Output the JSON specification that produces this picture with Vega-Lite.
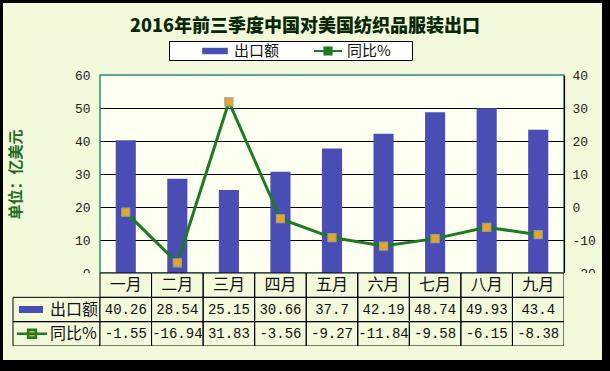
{
  "$schema": "https://vega.github.io/schema/vega-lite/v6.json",
  "background": "#000000",
  "padding": {"left": 3, "top": 3, "right": 8, "bottom": 11},
  "columns": 4,
  "align": "none",
  "bounds": "flush",
  "spacing": 0,
  "resolve": {"legend": {"color": "independent"}},
  "datasets": {
    "months": [
      {"month": "一月", "export": 40.26, "yoy": -1.55},
      {"month": "二月", "export": 28.54, "yoy": -16.94},
      {"month": "三月", "export": 25.15, "yoy": 31.83},
      {"month": "四月", "export": 30.66, "yoy": -3.56},
      {"month": "五月", "export": 37.7, "yoy": -9.27},
      {"month": "六月", "export": 42.19, "yoy": -11.84},
      {"month": "七月", "export": 48.74, "yoy": -9.58},
      {"month": "八月", "export": 49.93, "yoy": -6.15},
      {"month": "九月", "export": 43.4, "yoy": -8.38}
    ],
    "header": [
      {"row": "export", "label": "出口额"},
      {"row": "yoy", "label": "同比%"}
    ],
    "blank": [{}]
  },
  "concat": [
    {"width": 10, "height": 72, "data": {"name": "blank"}, "mark": {"type": "point", "opacity": 0}, "view": {"style": "cell", "fill": "#F2FADB", "stroke": null}},
    {"width": 87, "height": 72, "data": {"name": "blank"}, "mark": {"type": "point", "opacity": 0}, "view": {"style": "cell", "fill": "#F2FADB", "stroke": null}},
    {
      "width": 464, "height": 72,
      "data": {"name": "blank"},
      "view": {"style": "cell", "fill": "#F2FADB", "stroke": null},
      "mark": {"type": "text", "text": "2016年前三季度中国对美国纺织品服装出口", "font": "Noto Sans CJK SC", "fontSize": 18, "fontWeight": 900, "color": "#082808", "dx": -27, "dy": -12}
    },
    {"width": 38, "height": 72, "data": {"name": "blank"}, "mark": {"type": "point", "opacity": 0}, "view": {"style": "cell", "fill": "#F2FADB", "stroke": null}},

    {"width": 10, "height": 198, "data": {"name": "blank"}, "mark": {"type": "point", "opacity": 0}, "view": {"style": "cell", "fill": "#F2FADB", "stroke": null}},
    {"width": 87, "height": 198, "data": {"name": "blank"}, "mark": {"type": "point", "opacity": 0}, "view": {"style": "cell", "fill": "#F2FADB", "stroke": null}},
    {
      "width": 464, "height": 198,
      "data": {"name": "months"},
      "view": {"fill": "#FDFFF0", "stroke": "#2E8C7C", "strokeWidth": 1.5},
      "encoding": {
        "x": {"field": "month", "type": "nominal", "sort": null, "scale": {"paddingInner": 0.61, "paddingOuter": 0.305}, "axis": null}
      },
      "layer": [
        {
          "mark": {"type": "bar", "color": "#4A4EB4"},
          "encoding": {
            "y": {
              "field": "export", "type": "quantitative",
              "scale": {"domain": [0, 60]},
              "axis": {
                "values": [0, 10, 20, 30, 40, 50, 60],
                "title": "单位：亿美元",
                "titleFont": "Noto Sans CJK SC", "titleFontSize": 15, "titleFontWeight": "bold", "titleColor": "#1F6B1F",
                "titlePadding": 51,
                "labelFont": "Liberation Mono", "labelFontSize": 13, "labelColor": "#222222", "labelPadding": 10,
                "ticks": false, "domain": false,
                "grid": true,
                "gridColor": {"condition": {"test": "datum.value === 0 || datum.value === 60", "value": "transparent"}, "value": "#000000"},
                "gridWidth": 1, "gridOpacity": 1
              }
            },
            "color": {
              "datum": "出口额", "type": "nominal",
              "scale": {"domain": ["出口额", "同比%"], "range": ["#4A4EB4", "#1E7B22"]},
              "legend": {
                "orient": "none", "legendX": 69, "legendY": -34, "direction": "horizontal",
                "title": " ", "titleOrient": "right", "titlePadding": 20, "titleFontSize": 12,
                "fillColor": "#FFFFFF", "strokeColor": "#000000", "padding": 1,
                "symbolSize": 256, "symbolOffset": 36, "labelOffset": 10, "columnPadding": 3,
                "labelFont": "Noto Sans CJK SC", "labelFontSize": 15, "labelColor": "#111111",
                "encode": {
                  "symbols": {
                    "update": {
                      "shape": {"signal": "datum.value === '出口额' ? 'M-1.6,-0.4H1.6V0.4H-1.6Z' : 'M-1.75,0H1.75M-0.45,-0.45H0.45V0.45H-0.45Z'"},
                      "fill": {"signal": "datum.value === '出口额' ? '#4A4EB4' : '#E8A427'"},
                      "stroke": {"signal": "datum.value === '出口额' ? 'transparent' : '#1E7B22'"},
                      "strokeWidth": {"value": 2},
                      "opacity": {"value": 1}
                    }
                  }
                }
              }
            }
          }
        },
        {
          "mark": {"type": "line", "color": "#1E7B22", "strokeWidth": 3},
          "encoding": {"y": {"field": "yoy", "type": "quantitative", "scale": {"domain": [-20, 40]}, "axis": null}}
        },
        {
          "mark": {"type": "point", "shape": "square", "size": 64, "filled": true, "fill": "#E8A427", "stroke": "#9FA486", "strokeWidth": 1.2, "opacity": 1},
          "encoding": {"y": {"field": "yoy", "type": "quantitative", "scale": {"domain": [-20, 40]}, "axis": null}}
        }
      ],
      "resolve": {"scale": {"y": "independent"}}
    },
    {
      "width": 38, "height": 198,
      "data": {"name": "blank"},
      "view": {"style": "cell", "fill": "#F2FADB", "stroke": null},
      "mark": {"type": "point", "opacity": 0},
      "encoding": {
        "y": {
          "datum": 0, "type": "quantitative",
          "scale": {"domain": [-20, 40]},
          "axis": {
            "orient": "right", "offset": -38,
            "values": [-20, -10, 0, 10, 20, 30, 40],
            "labelExpr": "datum.value + ''",
            "domain": true, "domainColor": "#000000", "domainWidth": 1.2,
            "ticks": false, "grid": false,
            "labelPadding": 8, "labelFont": "Liberation Mono", "labelFontSize": 13, "labelColor": "#222222",
            "title": null
          }
        }
      }
    },

    {"width": 10, "height": 73, "data": {"name": "blank"}, "mark": {"type": "point", "opacity": 0}, "view": {"style": "cell", "fill": "#F2FADB", "stroke": null}},
    {
      "width": 87, "height": 73,
      "data": {"name": "header"},
      "view": {"style": "cell", "fill": "#F2FADB", "stroke": null},
      "encoding": {
        "x": {"datum": "h", "type": "nominal", "scale": {"type": "band", "domain": ["h"], "paddingInner": 0, "paddingOuter": 0}, "axis": null},
        "y": {"field": "row", "type": "nominal", "scale": {"domain": ["month", "export", "yoy"], "paddingInner": 0, "paddingOuter": 0}, "axis": null}
      },
      "layer": [
        {"mark": {"type": "rect", "fillOpacity": 0, "stroke": "#000000", "strokeWidth": 1}},
        {
          "mark": {"type": "text", "font": "Noto Sans CJK SC", "fontSize": 16, "color": "#111111", "align": "left", "dx": -6.5},
          "encoding": {"text": {"field": "label"}}
        },
        {
          "transform": [{"filter": "datum.row === 'export'"}],
          "mark": {"type": "point", "shape": "M-1,-0.29H1V0.29H-1Z", "size": 576, "filled": true, "color": "#4A4EB4", "opacity": 1, "strokeWidth": 0, "xOffset": -25.5}
        },
        {
          "transform": [{"filter": "datum.row === 'yoy'"}],
          "mark": {"type": "point", "shape": "M-1.25,0H1.25M-0.33,-0.33H0.33V0.33H-0.33Z", "size": 576, "filled": true, "fill": "#E8A427", "stroke": "#1E7B22", "strokeWidth": 2.5, "opacity": 1, "xOffset": -24.5}
        }
      ]
    },
    {
      "width": 464, "height": 73,
      "data": {"name": "months"},
      "encoding": {
        "x": {"field": "month", "type": "nominal", "sort": null, "scale": {"paddingInner": 0, "paddingOuter": 0}, "axis": null}
      },
      "layer": [
        {
          "transform": [{"fold": ["export", "yoy"], "as": ["key", "value"]}],
          "mark": {"type": "rect", "fillOpacity": 0, "stroke": "#000000", "strokeWidth": 1},
          "encoding": {"y": {"field": "key", "type": "nominal", "scale": {"domain": ["month", "export", "yoy"], "paddingInner": 0, "paddingOuter": 0}, "axis": null}}
        },
        {
          "mark": {"type": "rect", "fillOpacity": 0, "stroke": "#000000", "strokeWidth": 1},
          "encoding": {"y": {"datum": "month", "type": "nominal"}}
        },
        {
          "mark": {"type": "text", "font": "Noto Sans CJK SC", "fontSize": 16, "color": "#111111"},
          "encoding": {"y": {"datum": "month", "type": "nominal"}, "text": {"field": "month"}}
        },
        {
          "transform": [{"fold": ["export", "yoy"], "as": ["key", "value"]}],
          "mark": {"type": "text", "font": "Liberation Mono", "fontSize": 14, "color": "#111111"},
          "encoding": {"y": {"field": "key", "type": "nominal"}, "text": {"field": "value", "type": "nominal"}}
        }
      ]
    },
    {"width": 38, "height": 73, "data": {"name": "blank"}, "mark": {"type": "point", "opacity": 0}, "view": {"style": "cell", "fill": "#F2FADB", "stroke": null}},

    {"width": 10, "height": 14, "data": {"name": "blank"}, "mark": {"type": "point", "opacity": 0}, "view": {"style": "cell", "fill": "#F2FADB", "stroke": null}},
    {"width": 87, "height": 14, "data": {"name": "blank"}, "mark": {"type": "point", "opacity": 0}, "view": {"style": "cell", "fill": "#F2FADB", "stroke": null}},
    {"width": 464, "height": 14, "data": {"name": "blank"}, "mark": {"type": "point", "opacity": 0}, "view": {"style": "cell", "fill": "#F2FADB", "stroke": null}},
    {"width": 38, "height": 14, "data": {"name": "blank"}, "mark": {"type": "point", "opacity": 0}, "view": {"style": "cell", "fill": "#F2FADB", "stroke": null}}
  ],
  "config": {
    "view": {"fill": "#F2FADB", "stroke": null},
    "text": {"baseline": "middle"}
  }
}
